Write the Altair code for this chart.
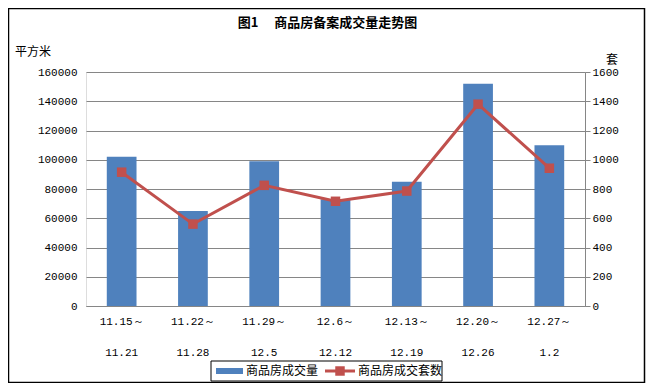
import altair as alt
import pandas as pd

# ---- data ----
week_start = ["11.15～", "11.22～", "11.29～", "12.6～", "12.13～", "12.20～", "12.27～"]
week_end = ["11.21", "11.28", "12.5", "12.12", "12.19", "12.26", "1.2"]
area = [102000, 65000, 99000, 73000, 85000, 152000, 110000]   # 商品房成交量 (平方米)
units = [915, 560, 825, 716, 786, 1380, 942]                 # 商品房成交套数 (套)
series_names = ["商品房成交量", "商品房成交套数"]
left_ticks = [0, 20000, 40000, 60000, 80000, 100000, 120000, 140000, 160000]
right_ticks = [0, 200, 400, 600, 800, 1000, 1200, 1400, 1600]
title_text = "图1\u3000\u00a0商品房备案成交量走势图"
left_unit = "平方米"
right_unit = "套"

cats = [f"{a}\n{b}" for a, b in zip(week_start, week_end)]
df = pd.DataFrame({"week": cats, "area": area, "units": units})

W, H = 499, 234
BLUE = "#4F81BD"
RED = "#C0504D"
GRID = "#868686"
MONO = "Liberation Mono"
CJK = "Noto Sans CJK SC"

x_enc = alt.X(
    "week:N", sort=None, title=None,
    scale=alt.Scale(paddingInner=0.583, paddingOuter=0.2917),
    axis=alt.Axis(labelAngle=0, ticks=False, domain=True, domainColor=GRID,
                  labelPadding=9, labelLineHeight=31, labelBaseline="top",
                  labelExpr="split(datum.value, '\\n')",
                  labelFont=MONO, labelFontSize=11, labelColor="black"),
)

bars = alt.Chart(df).mark_bar(color=BLUE).encode(
    x=x_enc,
    y=alt.Y("area:Q", title=None, scale=alt.Scale(domain=[0, 160000]),
            axis=alt.Axis(values=left_ticks, format="d", orient="left", ticks=False, domain=False,
                          grid=True, gridColor=GRID, gridWidth=1,
                          labelPadding=9, labelFont=MONO, labelFontSize=11,
                          labelColor="black")),
)

line = alt.Chart(df).mark_line(
    color=RED, strokeWidth=3,
    point=alt.OverlayMarkDef(shape="square", size=90, color=RED, filled=True, opacity=1),
).encode(
    x=x_enc,
    y=alt.Y("units:Q", title=None, scale=alt.Scale(domain=[0, 1600]),
            axis=alt.Axis(values=right_ticks, format="d", orient="right", grid=False,
                          domain=True, domainColor=GRID, ticks=True, tickColor=GRID,
                          tickSize=5, labelPadding=2, labelFont=MONO, labelFontSize=11,
                          labelColor="black")),
)

one = pd.DataFrame({"t": [0]})

border = alt.Chart(one).mark_rect(fill="transparent", stroke="black", strokeWidth=1.5).encode(
    x=alt.value(-77.5), x2=alt.value(558.5), y=alt.value(-63.5), y2=alt.value(310.5))

title = alt.Chart(pd.DataFrame({"t": [title_text]})).mark_text(
    font=CJK, fontSize=13, fontWeight="bold", color="black", align="center", baseline="middle"
).encode(text="t:N", x=alt.value(241.5), y=alt.value(-49))

lunit = alt.Chart(pd.DataFrame({"t": [left_unit]})).mark_text(
    font=CJK, fontSize=12, color="black", align="left", baseline="middle"
).encode(text="t:N", x=alt.value(-71), y=alt.value(-20))

runit = alt.Chart(pd.DataFrame({"t": [right_unit]})).mark_text(
    font=CJK, fontSize=12, color="black", align="center", baseline="middle"
).encode(text="t:N", x=alt.value(526), y=alt.value(-12))

# legend
leg_box = alt.Chart(one).mark_rect(fill="white", stroke="black", strokeWidth=1).encode(
    x=alt.value(125), x2=alt.value(356), y=alt.value(289), y2=alt.value(309))
leg_sw = alt.Chart(one).mark_rect(fill=BLUE).encode(
    x=alt.value(130), x2=alt.value(157), y=alt.value(296), y2=alt.value(302))
leg_t1 = alt.Chart(pd.DataFrame({"t": [series_names[0]]})).mark_text(
    font=CJK, fontSize=12, color="black", align="left", baseline="middle"
).encode(text="t:N", x=alt.value(160), y=alt.value(299))
leg_ln = alt.Chart(one).mark_rule(color=RED, strokeWidth=3).encode(
    x=alt.value(239), x2=alt.value(269), y=alt.value(299))
leg_pt = alt.Chart(one).mark_point(shape="square", size=90, color=RED, filled=True, opacity=1).encode(
    x=alt.value(254), y=alt.value(299))
leg_t2 = alt.Chart(pd.DataFrame({"t": [series_names[1]]})).mark_text(
    font=CJK, fontSize=12, color="black", align="left", baseline="middle"
).encode(text="t:N", x=alt.value(272), y=alt.value(299))

chart = alt.layer(
    bars, line, border, title, lunit, runit, leg_box, leg_sw, leg_t1, leg_ln, leg_pt, leg_t2
).resolve_scale(y="independent").properties(
    width=W, height=H,
    autosize=alt.AutoSizeParams(type="none"),
    padding={"left": 78, "top": 64, "right": 61, "bottom": 77},
).configure_view(stroke=None).configure(background="white")

chart.save("out.html", embed_options={"renderer": "svg", "actions": False})
